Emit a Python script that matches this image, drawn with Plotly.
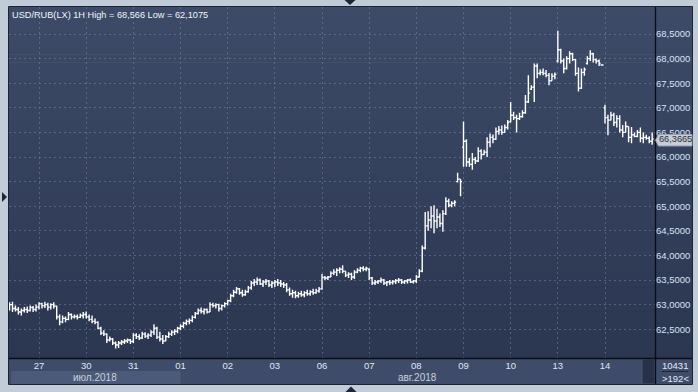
import plotly.graph_objects as go

# ---------------- data ----------------
title_text = "USD/RUB(LX) 1H High = 68,566 Low = 62,1075"
day_labels = ["27", "30", "31", "01", "02", "03", "06", "07", "08", "09", "10", "13", "14", "15"]
bars_per_day = [10, 16, 16, 16, 16, 16, 16, 16, 16, 16, 16, 16, 16, 1]   # first entry = 26 Jul (partial)
month_labels = ["июл.2018", "авг.2018"]
month_first_day = "01"

opens = [
    62.95, 63.00, 62.92, 62.90, 62.85, 62.88, 62.90, 62.88, 62.94, 62.90,
    62.95, 63.02, 62.98, 63.00, 62.95, 63.00, 62.97, 62.75, 62.65, 62.72, 62.70, 62.80, 62.75, 62.76, 62.74, 62.78,
    62.80, 62.75, 62.70, 62.66, 62.64, 62.52, 62.42, 62.40, 62.28, 62.30, 62.22, 62.18, 62.22, 62.24, 62.26, 62.28,
    62.25, 62.38, 62.35, 62.32, 62.40, 62.36, 62.38, 62.44, 62.52, 62.34, 62.30, 62.26, 62.35, 62.40, 62.44, 62.46,
    62.52, 62.56, 62.62, 62.66, 62.68, 62.74, 62.82, 62.88, 62.86, 62.90, 62.85, 63.00, 62.98, 63.00, 62.92, 62.98,
    63.02, 63.08, 63.18, 63.25, 63.32, 63.24, 63.20, 63.26, 63.34, 63.44, 63.46, 63.50, 63.42, 63.46, 63.48, 63.40,
    63.44, 63.46, 63.44, 63.42, 63.40, 63.30, 63.22, 63.24, 63.18, 63.22, 63.20, 63.24, 63.22, 63.26, 63.24, 63.28,
    63.32, 63.55, 63.54, 63.56, 63.64, 63.66, 63.70, 63.72, 63.68, 63.60, 63.62, 63.56, 63.66, 63.70, 63.74, 63.72,
    63.72, 63.54, 63.44, 63.46, 63.48, 63.50, 63.44, 63.46, 63.45, 63.47, 63.49, 63.50, 63.46, 63.48, 63.50, 63.46,
    63.48, 63.56, 63.68, 64.15, 64.60, 64.72, 64.80, 64.70, 64.78, 64.65, 64.85, 65.10, 65.02, 65.06, 65.50, 65.55,
    66.20, 66.32, 65.90, 65.85, 65.95, 65.92, 66.12, 66.05, 66.10, 66.30, 66.40, 66.36, 66.52, 66.55, 66.50, 66.60,
    66.72, 66.85, 66.80, 66.78, 66.82, 66.90, 67.12, 67.38, 67.42, 67.85, 67.70, 67.72, 67.70, 67.66, 67.55, 67.64,
    67.95, 68.18, 67.95, 67.80, 68.00, 68.10, 67.98, 67.70, 67.40, 67.72, 67.90, 68.00, 68.10, 67.98, 67.95, 67.87,
    67.00, 66.80, 66.75, 66.85, 66.70, 66.78, 66.55, 66.50, 66.62, 66.40, 66.45, 66.42, 66.50, 66.38, 66.40, 66.38,
    66.32,
]
highs = [
    63.05, 63.06, 62.98, 62.95, 62.92, 62.95, 62.96, 62.98, 62.97, 63.00,
    63.05, 63.04, 63.06, 63.04, 63.03, 63.05, 62.98, 62.80, 62.78, 62.76, 62.85, 62.82, 62.80, 62.80, 62.82, 62.85,
    62.86, 62.80, 62.78, 62.72, 62.66, 62.55, 62.48, 62.42, 62.35, 62.32, 62.25, 62.26, 62.28, 62.30, 62.31, 62.30,
    62.42, 62.42, 62.40, 62.45, 62.44, 62.42, 62.48, 62.60, 62.55, 62.45, 62.38, 62.38, 62.45, 62.48, 62.50, 62.55,
    62.60, 62.65, 62.70, 62.72, 62.78, 62.85, 62.92, 62.94, 62.92, 62.92, 63.05, 63.04, 63.03, 63.02, 63.00, 63.05,
    63.10, 63.22, 63.30, 63.36, 63.34, 63.30, 63.30, 63.38, 63.48, 63.52, 63.55, 63.53, 63.50, 63.52, 63.50, 63.48,
    63.50, 63.52, 63.50, 63.46, 63.44, 63.35, 63.30, 63.28, 63.26, 63.28, 63.27, 63.30, 63.29, 63.32, 63.32, 63.36,
    63.62, 63.58, 63.58, 63.68, 63.72, 63.74, 63.76, 63.80, 63.68, 63.66, 63.65, 63.70, 63.74, 63.77, 63.78, 63.77,
    63.74, 63.56, 63.50, 63.50, 63.55, 63.52, 63.48, 63.50, 63.50, 63.52, 63.54, 63.52, 63.50, 63.52, 63.53, 63.50,
    63.60, 63.72, 64.20, 64.88, 64.90, 65.00, 65.02, 64.95, 64.85, 64.92, 65.18, 65.15, 65.10, 65.12, 65.68, 65.55,
    66.72, 66.36, 65.98, 66.08, 66.00, 66.20, 66.16, 66.15, 66.40, 66.48, 66.46, 66.60, 66.63, 66.64, 66.66, 66.75,
    67.12, 66.92, 66.86, 66.90, 66.95, 67.26, 67.66, 67.46, 67.90, 67.90, 67.78, 67.80, 67.77, 67.71, 67.70, 67.72,
    68.566, 68.20, 68.00, 68.05, 68.15, 68.12, 67.99, 67.82, 67.80, 67.82, 68.05, 68.17, 68.12, 68.00, 67.98, 67.88,
    67.06, 66.86, 66.92, 66.90, 66.85, 66.85, 66.65, 66.72, 66.62, 66.61, 66.50, 66.55, 66.60, 66.50, 66.45, 66.42,
    66.50,
]
lows = [
    62.88, 62.85, 62.86, 62.80, 62.78, 62.84, 62.83, 62.86, 62.85, 62.86,
    62.90, 62.92, 62.93, 62.88, 62.90, 62.92, 62.70, 62.58, 62.62, 62.64, 62.68, 62.70, 62.72, 62.70, 62.73, 62.72,
    62.72, 62.66, 62.62, 62.60, 62.50, 62.38, 62.36, 62.22, 62.25, 62.18, 62.1075, 62.12, 62.18, 62.20, 62.22, 62.20,
    62.22, 62.30, 62.28, 62.30, 62.32, 62.30, 62.34, 62.38, 62.30, 62.25, 62.20, 62.26, 62.32, 62.36, 62.38, 62.42,
    62.48, 62.52, 62.58, 62.60, 62.64, 62.72, 62.80, 62.82, 62.80, 62.82, 62.85, 62.94, 62.92, 62.86, 62.88, 62.94,
    62.98, 63.05, 63.15, 63.22, 63.20, 63.16, 63.18, 63.24, 63.30, 63.38, 63.40, 63.40, 63.36, 63.40, 63.36, 63.34,
    63.36, 63.38, 63.36, 63.34, 63.25, 63.18, 63.14, 63.13, 63.14, 63.16, 63.15, 63.18, 63.18, 63.20, 63.22, 63.24,
    63.30, 63.50, 63.50, 63.56, 63.60, 63.58, 63.64, 63.64, 63.56, 63.54, 63.50, 63.52, 63.64, 63.66, 63.68, 63.68,
    63.50, 63.40, 63.40, 63.42, 63.44, 63.40, 63.38, 63.40, 63.41, 63.42, 63.44, 63.42, 63.42, 63.43, 63.44, 63.43,
    63.44, 63.55, 63.66, 64.12, 64.50, 64.55, 64.45, 64.55, 64.58, 64.48, 64.82, 64.98, 64.98, 65.00, 65.48, 65.20,
    65.80, 65.80, 65.80, 65.74, 65.86, 65.90, 65.95, 66.04, 66.00, 66.20, 66.28, 66.35, 66.45, 66.45, 66.50, 66.56,
    66.70, 66.75, 66.50, 66.75, 66.80, 66.88, 67.10, 67.36, 67.12, 67.60, 67.66, 67.66, 67.62, 67.46, 67.55, 67.58,
    67.92, 67.90, 67.70, 67.78, 67.90, 67.95, 67.65, 67.33, 67.38, 67.65, 67.88, 67.95, 67.92, 67.90, 67.85, 67.86,
    66.68, 66.44, 66.74, 66.63, 66.60, 66.50, 66.40, 66.50, 66.30, 66.28, 66.40, 66.40, 66.30, 66.28, 66.35, 66.28,
    66.25,
]
closes = [
    63.00, 62.92, 62.90, 62.85, 62.88, 62.90, 62.88, 62.94, 62.90, 62.95,
    63.02, 62.98, 63.00, 62.95, 63.00, 62.97, 62.75, 62.65, 62.72, 62.70, 62.80, 62.75, 62.76, 62.74, 62.78, 62.80,
    62.75, 62.70, 62.66, 62.64, 62.52, 62.42, 62.40, 62.28, 62.30, 62.22, 62.18, 62.22, 62.24, 62.26, 62.28, 62.25,
    62.38, 62.35, 62.32, 62.40, 62.36, 62.38, 62.44, 62.52, 62.34, 62.30, 62.26, 62.35, 62.40, 62.44, 62.46, 62.52,
    62.56, 62.62, 62.66, 62.68, 62.74, 62.82, 62.88, 62.86, 62.90, 62.85, 63.00, 62.98, 63.00, 62.92, 62.98, 63.02,
    63.08, 63.18, 63.25, 63.32, 63.24, 63.20, 63.26, 63.34, 63.44, 63.46, 63.50, 63.42, 63.46, 63.48, 63.40, 63.44,
    63.46, 63.44, 63.42, 63.40, 63.30, 63.22, 63.24, 63.18, 63.22, 63.20, 63.24, 63.22, 63.26, 63.24, 63.28, 63.32,
    63.55, 63.54, 63.56, 63.64, 63.66, 63.70, 63.72, 63.68, 63.60, 63.62, 63.56, 63.66, 63.70, 63.74, 63.72, 63.74,
    63.54, 63.44, 63.46, 63.48, 63.50, 63.44, 63.46, 63.45, 63.47, 63.49, 63.50, 63.46, 63.48, 63.50, 63.46, 63.48,
    63.56, 63.68, 64.15, 64.60, 64.72, 64.80, 64.70, 64.78, 64.65, 64.85, 65.10, 65.02, 65.06, 65.08, 65.55, 65.50,
    66.32, 65.90, 65.85, 65.95, 65.92, 66.12, 66.05, 66.10, 66.30, 66.40, 66.36, 66.52, 66.55, 66.50, 66.60, 66.70,
    66.85, 66.80, 66.78, 66.82, 66.90, 67.12, 67.30, 67.42, 67.85, 67.70, 67.72, 67.70, 67.66, 67.55, 67.64, 67.68,
    68.18, 67.95, 67.80, 68.00, 68.10, 67.98, 67.70, 67.40, 67.72, 67.78, 68.00, 68.10, 67.98, 67.95, 67.90, 67.87,
    66.80, 66.75, 66.85, 66.70, 66.78, 66.55, 66.50, 66.62, 66.40, 66.45, 66.42, 66.50, 66.38, 66.40, 66.38, 66.32,
    66.3665,
]
y_tick_vals = [62.5, 63.0, 63.5, 64.0, 64.5, 65.0, 65.5, 66.0, 66.5, 67.0, 67.5, 68.0, 68.5]
y_tick_text = ["62,5000", "63,0000", "63,5000", "64,0000", "64,5000", "65,0000", "65,5000",
               "66,0000", "66,5000", "67,0000", "67,5000", "68,0000", "68,5000"]
last_price = 66.3665
last_price_text = "66,3665"
corner_texts = ["10431", ">192<"]

# ---------------- derived ----------------
x_idx = list(range(len(opens)))
day_starts = []
acc = 0
for n in bars_per_day[:-1]:
    acc += n
    day_starts.append(acc)
x_range = [-0.18, 218.96]
y_range = [61.915, 69.049]
aug_start = day_starts[day_labels.index(month_first_day)]

W, H = 698, 392
L, R, T, B = 9, 43, 7, 34
PW, PH = W - L - R, H - T - B


def px(X):
    return (X - L) / PW


def py(Y):
    return (H - B - Y) / PH


fig = go.Figure()
fig.add_trace(go.Ohlc(
    x=x_idx, open=opens, high=highs, low=lows, close=closes,
    increasing=dict(line=dict(color="#ffffff", width=1.4)),
    decreasing=dict(line=dict(color="#ffffff", width=1.4)),
    tickwidth=0.5, hoverinfo="skip", showlegend=False,
))

shapes = []
# gradient background (plot + right axis panel)
N = 44
top_c = (61, 75, 104)
bot_c = (43, 54, 80)
for i in range(N):
    t = (i + 0.5) / N
    c = tuple(round(bot_c[k] + (top_c[k] - bot_c[k]) * t) for k in range(3))
    shapes.append(dict(type="rect", xref="paper", yref="paper", x0=0, x1=px(692),
                       y0=i / N, y1=(i + 1) / N + 0.002, fillcolor="rgb(%d,%d,%d)" % c,
                       line=dict(width=0), layer="below"))
# bottom axis panel
shapes.append(dict(type="rect", xref="paper", yref="paper", x0=0, x1=1, y0=py(384.5), y1=0,
                   fillcolor="#3e4c69", line=dict(width=0), layer="below"))
# July month band
shapes.append(dict(type="rect", xref="x", yref="paper", x0=x_range[0] + 0.7, x1=aug_start,
                   y0=py(384.5), y1=py(371), fillcolor="#4b5a78", line=dict(width=0), layer="below"))
# scroll indicator
shapes.append(dict(type="rect", xref="paper", yref="paper", x0=px(642), x1=px(655), y0=py(384), y1=py(359),
                   fillcolor="#27314a", line=dict(color="#4a5775", width=1), layer="below"))
# corner panel
shapes.append(dict(type="rect", xref="paper", yref="paper", x0=px(655.5), x1=px(692), y0=py(384.5), y1=py(358.5),
                   fillcolor="#3e4c69", line=dict(width=0), layer="above"))
shapes.append(dict(type="line", xref="paper", yref="paper", x0=px(662), x1=px(688), y0=py(371.5), y1=py(371.5),
                   line=dict(color="#1e2638", width=1), layer="above"))
# separators
shapes.append(dict(type="line", xref="paper", yref="paper", x0=px(655.5), x1=px(655.5), y0=py(384.5), y1=1,
                   line=dict(color="#0a0d14", width=1.3), layer="above"))
shapes.append(dict(type="line", xref="paper", yref="paper", x0=0, x1=px(692), y0=py(358.5), y1=py(358.5),
                   line=dict(color="#0a0d14", width=1.3), layer="above"))
# outer frame
shapes.append(dict(type="rect", xref="paper", yref="paper", x0=px(8.5), x1=px(692.5), y0=py(384.5), y1=py(6.5),
                   line=dict(color="#1c2333", width=1), fillcolor="rgba(0,0,0,0)", layer="above"))
# last price label box with arrow
bx0, bx1, by0, by1, tipx = 658.5, 692, 134.5, 146, 655.5
ymid = (by0 + by1) / 2
path = "M %f %f L %f %f L %f %f L %f %f L %f %f L %f %f Z" % (
    px(tipx), py(ymid), px(bx0), py(by0), px(bx1), py(by0), px(bx1), py(by1), px(bx0), py(by1), px(tipx), py(ymid))
shapes.append(dict(type="path", xref="paper", yref="paper", path=path,
                   fillcolor="#c9cdd5", line=dict(color="#9aa1ae", width=1), layer="above"))


# navigation triangles
def tri(p):
    return "M " + " L ".join("%f %f" % (px(a), py(b)) for a, b in p) + " Z"


for p in ([(344, -0.5), (356, -0.5), (350, 5)], [(345, 392.5), (357, 392.5), (351, 386.5)],
          [(2, 192), (2, 202), (7, 197)]):
    shapes.append(dict(type="path", xref="paper", yref="paper", path=tri(p),
                       fillcolor="#1d2536", line=dict(width=0), layer="above"))

annotations = [
    dict(text=title_text, xref="paper", yref="paper", x=px(10), y=py(14.5), xanchor="left", yanchor="middle",
         showarrow=False, font=dict(size=9.2, color="#f2f5fa")),
    dict(text=month_labels[0], xref="x", yref="paper", x=(x_range[0] + aug_start) / 2, y=py(377.5),
         xanchor="center", yanchor="middle", showarrow=False, font=dict(size=10, color="#c9d0dc")),
    dict(text=month_labels[1], xref="x", yref="paper", x=(aug_start + x_range[1]) / 2, y=py(377.5),
         xanchor="center", yanchor="middle", showarrow=False, font=dict(size=10, color="#c9d0dc")),
    dict(text=last_price_text, xref="paper", yref="y", x=px(675.5), y=last_price, xanchor="center",
         yanchor="middle", showarrow=False, font=dict(size=9.2, color="#283040")),
    dict(text=corner_texts[0], xref="paper", yref="paper", x=px(675), y=py(365), xanchor="center",
         yanchor="middle", showarrow=False, font=dict(size=9.5, color="#e2e9f4")),
    dict(text=corner_texts[1], xref="paper", yref="paper", x=px(675), y=py(378), xanchor="center",
         yanchor="middle", showarrow=False, font=dict(size=9.5, color="#e2e9f4")),
]

grid = dict(showgrid=True, gridcolor="rgba(118,132,162,0.55)", gridwidth=1, griddash="2px,3px",
            zeroline=False, showline=False, ticks="", fixedrange=True)

fig.update_layout(
    width=W, height=H, margin=dict(l=L, r=R, t=T, b=B, pad=0),
    paper_bgcolor="#c2ccd9", plot_bgcolor="rgba(0,0,0,0)",
    font=dict(family="Liberation Sans", size=9.5, color="#dfe8f5"),
    showlegend=False, shapes=shapes, annotations=annotations,
    xaxis=dict(range=x_range, tickmode="array", tickvals=day_starts, ticktext=day_labels,
               rangeslider=dict(visible=False), tickfont=dict(color="#dfe8f5", size=9.5), **grid),
    yaxis=dict(range=y_range, side="right", tickmode="array", tickvals=y_tick_vals, ticktext=y_tick_text,
               tickfont=dict(color="#d6e3f6", size=9.5), **grid),
)

fig.write_html("out.html")
